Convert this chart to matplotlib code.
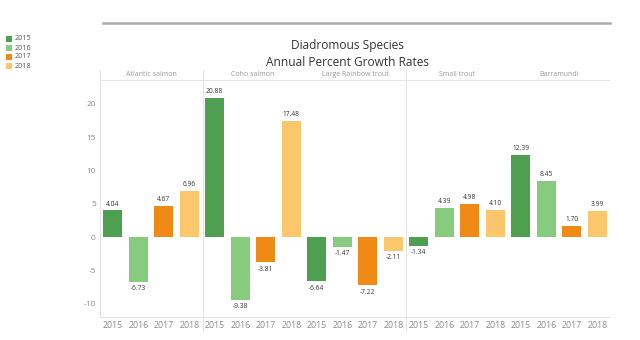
import matplotlib
matplotlib.use('Agg')
import matplotlib.pyplot as plt
from matplotlib.lines import Line2D
from matplotlib.patches import Rectangle

species = ['Atlantic salmon', 'Coho salmon', 'Large Rainbow trout', 'Small trout', 'Barramundi']
years = ['2015', '2016', '2017', '2018']
growth = {
    'Atlantic salmon': [4.04, -6.73, 4.67, 6.96],
    'Coho salmon': [20.88, -9.38, -3.81, 17.48],
    'Large Rainbow trout': [-6.64, -1.47, -7.22, -2.11],
    'Small trout': [-1.34, 4.39, 4.98, 4.10],
    'Barramundi': [12.39, 8.45, 1.70, 3.99],
}
year_colors = ['#4e9f50', '#87cc7e', '#ef8a17', '#fcc66d']
y_ticks = [-10, -5, 0, 5, 10, 15, 20]

plt.rcParams['font.family'] = ['Open Sans', 'DejaVu Sans']

fig = plt.figure(figsize=(6.4, 3.4), dpi=100)
W, H = 640, 340

def fx(px):
    return px / W

def fy(py):
    return 1 - py / H

ax = fig.add_axes([fx(100), fy(317), fx(610) - fx(100), fy(80) - fy(317)])

n = len(years)
for g, sp in enumerate(species):
    for i, v in enumerate(growth[sp]):
        x = g * n + i
        ax.bar(x, v, width=0.75, color=year_colors[i], linewidth=0)
        if v >= 0:
            ax.text(x, v + 0.4, '%.2f' % v, ha='center', va='bottom',
                    fontsize=4.8, color='#333333')
        else:
            ax.text(x, v - 0.5, '%.2f' % v, ha='center', va='top',
                    fontsize=4.8, color='#333333')

ax.set_xlim(-0.5, len(species) * n - 0.5)
ax.set_ylim(-12.0, 23.6)
ax.set_yticks(y_ticks)
ax.set_yticklabels([str(t) for t in y_ticks], fontsize=6, color='#888888')
ax.set_xticks(range(len(species) * n))
ax.set_xticklabels(years * len(species), fontsize=6.3, color='#888888')
ax.tick_params(length=0, pad=3)
for s in ['top', 'right']:
    ax.spines[s].set_visible(False)
ax.spines['left'].set_color('#dddddd')
ax.spines['bottom'].set_color('#dddddd')
ax.spines['left'].set_linewidth(0.6)
ax.spines['bottom'].set_linewidth(0.6)

# pane dividers and header row
for xp in [203, 406]:
    fig.add_artist(Line2D([fx(xp), fx(xp)], [fy(70), fy(330)],
                          color='#dddddd', lw=0.6))
fig.add_artist(Line2D([fx(100), fx(100)], [fy(70), fy(80)], color='#dddddd', lw=0.6))
fig.add_artist(Line2D([fx(100), fx(610)], [fy(80), fy(80)], color='#e2e2e2', lw=0.6))
for g, sp in enumerate(species):
    cx = 100 + (g + 0.5) * 102
    fig.text(fx(cx), fy(76), sp, ha='center', va='baseline', fontsize=5, color='#999999')

# top rule
fig.add_artist(Line2D([fx(103), fx(610)], [fy(23), fy(23)], color='#aaaaaa', lw=1.8))

fig.text(fx(347), fy(45), 'Diadromous Species', ha='center', va='center',
         fontsize=8.6, color='#333333')
fig.text(fx(347), fy(63), 'Annual Percent Growth Rates', ha='center', va='center',
         fontsize=8.6, color='#333333')

# legend
for i, yr in enumerate(years):
    yc = 39 + i * 9
    fig.add_artist(Rectangle((fx(6), fy(yc + 3)), fx(6), fy(yc - 3) - fy(yc + 3),
                             color=year_colors[i], lw=0))
    fig.text(fx(15), fy(yc), yr, ha='left', va='center', fontsize=5.2, color='#555555')

fig.savefig('out.png', dpi=100)
